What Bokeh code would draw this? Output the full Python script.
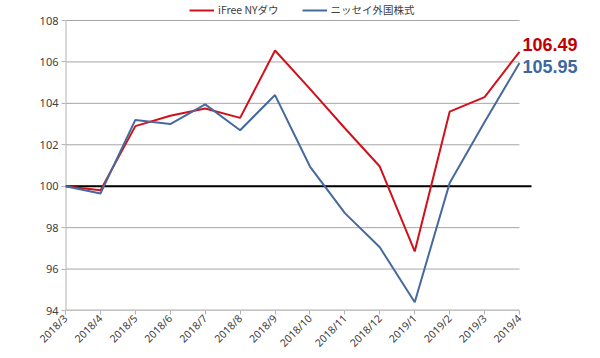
from bokeh.plotting import figure
from bokeh.models import Range1d, FixedTicker, Legend, LegendItem
from bokeh.core.properties import value
from bokeh.embed import file_html
from bokeh.resources import INLINE

months = ["2018/3", "2018/4", "2018/5", "2018/6", "2018/7", "2018/8", "2018/9",
          "2018/10", "2018/11", "2018/12", "2019/1", "2019/2", "2019/3", "2019/4"]
ifree_nydow = [100.0, 99.8, 102.9, 103.4, 103.75, 103.3, 106.55,
               104.7, 102.8, 100.95, 96.85, 103.6, 104.3, 106.49]
nissay_global = [100.0, 99.65, 103.2, 103.0, 103.95, 102.7, 104.4,
                 100.95, 98.7, 97.05, 94.4, 100.15, 103.1, 105.95]
series_names = ["iFree NYダウ", "ニッセイ外国株式"]
y_ticks = [94, 96, 98, 100, 102, 104, 106, 108]
baseline = 100

RED = "#d0111b"
BLUE = "#46699e"
RED_TXT = "#c00000"
BLUE_TXT = "#3c679f"
GRID = "#a6a6a6"
AXIS = "#b4b4b4"
TICK_FONT = "Noto Sans"

W, H = 600, 358
LEFT, RIGHT, BOTTOM = 65, 4, 48
PLOT_TOP = 20          # pixel row of the top gridline
PLOT_PX = 454          # pixel span of the month axis
xs = list(range(len(months)))
px_per_x = PLOT_PX / (xs[-1] - xs[0])
frame_w = W - LEFT - RIGHT
x_end = xs[0] + frame_w / px_per_x
frame_h = H - BOTTOM
px_per_y = (frame_h - PLOT_TOP) / (y_ticks[-1] - y_ticks[0])
y_end = y_ticks[-1] + PLOT_TOP / px_per_y

p = figure(width=W, height=H, output_backend="svg", toolbar_location=None,
           x_range=Range1d(xs[0], x_end), y_range=Range1d(y_ticks[0], y_end),
           min_border_left=LEFT, min_border_right=RIGHT, min_border_top=0,
           min_border_bottom=BOTTOM)
p.outline_line_color = None
p.background_fill_color = "white"
p.xgrid.grid_line_color = None
p.ygrid.grid_line_color = None

p.xaxis.ticker = FixedTicker(ticks=xs)
p.xaxis.major_label_overrides = {i: m for i, m in zip(xs, months)}
p.xaxis.major_label_orientation = 0.785398
p.yaxis.ticker = FixedTicker(ticks=y_ticks)
p.xaxis.axis_line_color = None
p.yaxis.axis_line_color = None

for ax in (p.xaxis[0], p.yaxis[0]):
    ax.major_tick_line_color = AXIS
    ax.major_tick_out = 4
    ax.major_tick_in = 0
    ax.minor_tick_line_color = None
    ax.major_label_text_font = TICK_FONT
    ax.major_label_text_color = "#404040"
p.yaxis.major_label_text_font_size = "11px"
p.yaxis.major_label_standoff = 3
p.xaxis.major_label_text_font_size = "10.5px"
p.xaxis.major_label_standoff = 2

# horizontal gridlines over the month span only
p.segment(x0=[xs[0]] * len(y_ticks), x1=[xs[-1]] * len(y_ticks),
          y0=y_ticks, y1=y_ticks, line_color=GRID, line_width=1)
# axis lines limited to the data span
p.segment(x0=[xs[0]], x1=[xs[-1]], y0=[y_ticks[0]], y1=[y_ticks[0]],
          line_color=AXIS, line_width=2)
p.segment(x0=[xs[0]], x1=[xs[0]], y0=[y_ticks[0]], y1=[y_ticks[-1]],
          line_color=AXIS, line_width=2)
# 100 reference line (extends a little beyond the last month)
p.segment(x0=[xs[0]], x1=[xs[-1] + 12 / px_per_x], y0=[baseline], y1=[baseline],
          line_color="black", line_width=2)

r1 = p.line(xs, ifree_nydow, line_color=RED, line_width=2)
r2 = p.line(xs, nissay_global, line_color=BLUE, line_width=2)

p.text(x=[xs[-1]], y=[ifree_nydow[-1]], text=[f"{ifree_nydow[-1]:.2f}"],
       x_offset=3, y_offset=-7, text_color=RED_TXT,
       text_font=value("Liberation Sans"), text_font_style="bold",
       text_font_size="18px", text_baseline="middle", text_align="left")
p.text(x=[xs[-1]], y=[nissay_global[-1]], text=[f"{nissay_global[-1]:.2f}"],
       x_offset=3, y_offset=3.5, text_color=BLUE_TXT,
       text_font=value("Liberation Sans"), text_font_style="bold",
       text_font_size="18px", text_baseline="middle", text_align="left")

legend = Legend(items=[LegendItem(label=series_names[0], renderers=[r1]),
                       LegendItem(label=series_names[1], renderers=[r2])],
                location=(124, frame_h - 17), orientation="horizontal")
legend.label_text_font = "Noto Sans CJK JP"
legend.label_text_font_size = "10.5px"
legend.label_text_color = "#404040"
legend.glyph_width = 25
legend.glyph_height = 10
legend.label_height = 10
legend.label_standoff = 4
legend.spacing = 23
legend.padding = 0
legend.margin = 0
legend.border_line_color = None
legend.background_fill_alpha = 0
p.add_layout(legend)

open("out.html", "w").write(file_html(p, INLINE))
